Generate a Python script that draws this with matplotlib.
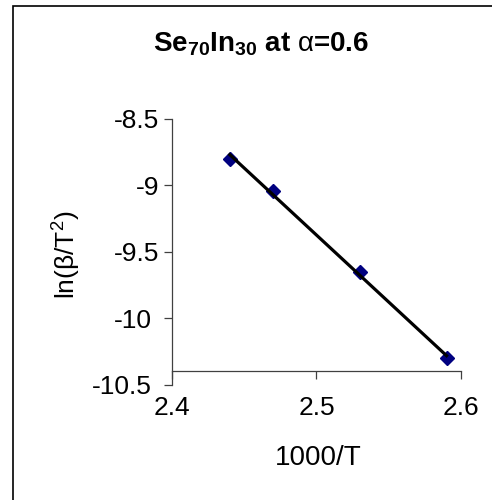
import matplotlib
matplotlib.use("Agg")
import matplotlib.pyplot as plt
import matplotlib.transforms as mtransforms
import numpy as np
from matplotlib.patches import Rectangle

# data
inv_T = [2.44, 2.47, 2.53, 2.59]          # 1000/T
ln_beta_T2 = [-8.805, -9.04, -9.653, -10.30]  # ln(beta/T^2)
x_ticks = [2.4, 2.5, 2.6]
y_ticks = [-8.5, -9, -9.5, -10, -10.5]
y_tick_labels = ["-8.5", "-9", "-9.5", "-10", "-10.5"]

plt.rcParams['font.family'] = ['Liberation Sans', 'DejaVu Sans']
plt.rcParams['mathtext.fontset'] = 'custom'
plt.rcParams['mathtext.rm'] = 'Liberation Sans'
plt.rcParams['mathtext.bf'] = 'Liberation Sans:bold'

W, H = 492, 500
fig = plt.figure(figsize=(W / 100, H / 100), dpi=100)

# outer chart frame (right and bottom edges fall outside the picture)
fig.patches.append(Rectangle((13 / W, -0.1), 1.2, 1.1 - 6 / H, transform=fig.transFigure,
                             fill=False, edgecolor='black', linewidth=1.2))

left, right = 172 / W, 461 / W
top, bottom = 1 - 118.7 / H, 1 - 385 / H
ax = fig.add_axes([left, bottom, right - left, top - bottom])

ax.plot(inv_T, ln_beta_T2, linestyle='none', marker='D', markersize=7,
        color='#000080', zorder=2, clip_on=False)

# linear trendline
k, b = np.polyfit(inv_T, ln_beta_T2, 1)
xs = np.array([min(inv_T), max(inv_T)])
ax.plot(xs, k * xs + b, color='black', linewidth=2.3, zorder=3, clip_on=False)

ax.set_xlim(2.4, 2.6)
ax.set_ylim(-10.5, -8.5)
ax.set_xticks(x_ticks)
ax.set_xticklabels([str(v) for v in x_ticks])
ax.set_yticks(y_ticks)
ax.set_yticklabels(y_tick_labels)

for s in ['top', 'right']:
    ax.spines[s].set_visible(False)
ax.spines['bottom'].set_position(('data', -10.395))
for s in ['left', 'bottom']:
    ax.spines[s].set_color('#404040')
    ax.spines[s].set_linewidth(0.9)

ax.tick_params(axis='both', direction='out', length=6, width=0.9, color='#404040',
               labelsize=19)
ax.tick_params(axis='x', pad=12)
ax.tick_params(axis='y', pad=3)

# the two lowest y labels sit a bit further left in the original
shift = mtransforms.ScaledTranslation(-8 / 100, 0, fig.dpi_scale_trans)
for lab in ax.get_yticklabels()[3:]:
    lab.set_transform(lab.get_transform() + shift)

fig.text(261 / W, 1 - 44 / H, r"Se$_{\mathbf{70}}$In$_{\mathbf{30}}$ at $\mathrm{\alpha}$=0.6",
         ha='center', va='center', fontsize=20, fontweight='bold')
fig.text(318 / W, 1 - 458 / H, "1000/T", ha='center', va='center', fontsize=20)
fig.text(66 / W, 1 - 255 / H, "ln(β/T$^{\\mathrm{2}}$)", ha='center', va='center',
         rotation=90, fontsize=19)

fig.savefig("out.png", dpi=100)
